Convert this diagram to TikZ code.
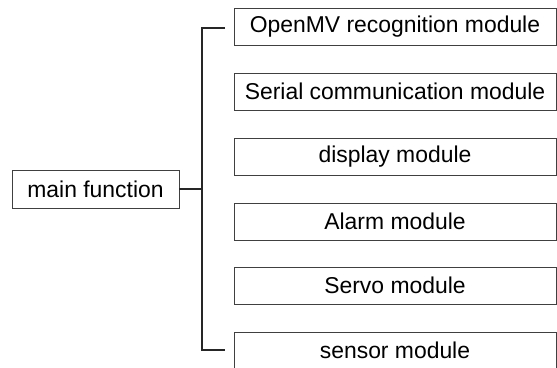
\documentclass[tikz,border=0pt]{standalone}
\usepackage{fontspec}
\setmainfont{Liberation Sans}
\begin{document}
\begin{tikzpicture}[x=1pt,y=-1pt,
  modbox/.style={draw=black!75,line width=0.8pt,minimum width=322pt,minimum height=37pt,inner sep=0pt,font=\fontsize{22.9}{26}\selectfont},
  mainbox/.style={draw=black!75,line width=0.8pt,minimum width=167pt,minimum height=38pt,inner sep=0pt,font=\fontsize{22.9}{26}\selectfont},
  bracket/.style={draw=black!85,line width=1.8pt}]
\useasboundingbox (0,0) rectangle (557,367);
\node[mainbox] (main) at (95.5,189) {main function};
\node[modbox] (m1) at (395,26.5) {OpenMV recognition module};
\node[modbox] (m2) at (395,91.5) {Serial communication module};
\node[modbox] (m3) at (395,156.5) {display module};
\node[modbox] (m4) at (395,221.5) {Alarm module};
\node[modbox] (m5) at (395,285.5) {Servo module};
\node[modbox] (m6) at (395,350.5) {sensor module};
\coordinate (j) at (202,189);
\coordinate (t) at (225,28);
\coordinate (b) at (225,350);
\draw[bracket] (main.east) -- (j);
\draw[bracket] (t) -- (202,28) -- (202,350) -- (b);
\end{tikzpicture}
\end{document}
